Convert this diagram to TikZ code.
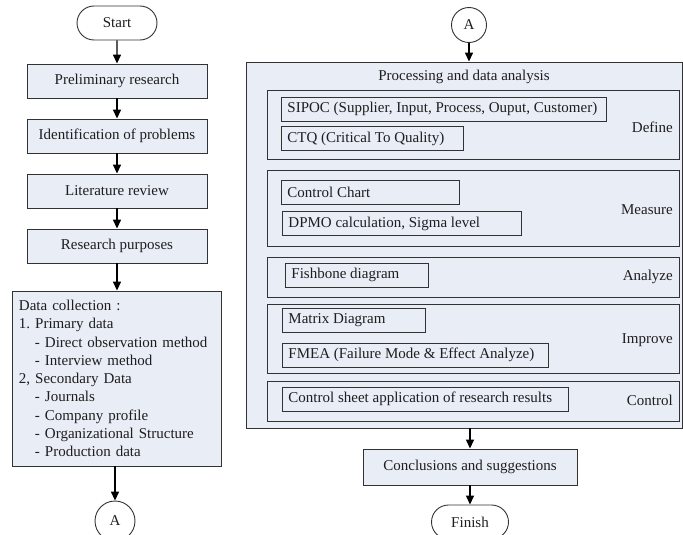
\documentclass[tikz,border=0pt]{standalone}
\usepackage{fontspec}
\setmainfont{Liberation Serif}
\usetikzlibrary{arrows.meta,shapes.misc}
\definecolor{boxfill}{RGB}{233,237,246}
\definecolor{linec}{RGB}{50,50,50}
\definecolor{txtc}{RGB}{30,30,30}
\frenchspacing
\begin{document}
\begin{tikzpicture}[x=1pt,y=-1pt,
  every node/.style={font=\fontsize{15}{18.3}\selectfont, text=txtc},
  mainbox/.style={draw=linec, fill=boxfill, line width=0.9pt, minimum width=180pt, minimum height=34pt, inner sep=0pt},
  term/.style={draw=linec, fill=white, line width=0.9pt, rounded rectangle, minimum width=80pt, minimum height=34pt, inner sep=0pt},
  conn/.style={draw=linec, fill=white, line width=0.9pt, circle, inner sep=0pt},
  phase/.style={draw=linec, line width=0.9pt, minimum width=412pt, inner sep=0pt},
  subbox/.style={draw=linec, line width=0.9pt, inner xsep=6pt, inner ysep=0pt, minimum height=24pt, anchor=west},
  plabel/.style={anchor=east, inner sep=0pt},
  arr/.style={-{Triangle[length=9pt,width=8pt]}, line width=1.4pt, draw=black}
]
\useasboundingbox (0,0) rectangle (683,535);
% left column
\node[term] (start) at (117,23) {Start};
\node[mainbox] (prelim) at (117,81) {Preliminary research};
\node[mainbox] (ident) at (117,136) {Identification of problems};
\node[mainbox] (lit) at (117,191) {Literature review};
\node[mainbox] (purp) at (117,246) {Research purposes};
\node[draw=linec, fill=boxfill, line width=0.9pt, minimum width=209pt, minimum height=175pt, inner xsep=7pt, inner ysep=0pt, text width=195pt, align=left] (data) at (116.5,378.5) {Data collection :\\
1. Primary data\\
\hspace*{16pt}- Direct observation method\\
\hspace*{16pt}- Interview method\\
2, Secondary Data\\
\hspace*{16pt}- Journals\\
\hspace*{16pt}- Company profile\\
\hspace*{16pt}- Organizational Structure\\
\hspace*{16pt}- Production data};
\node[conn, minimum size=40pt] (aL) at (115,521) {A};
\draw[arr] (start) -- (prelim);
\draw[arr] (prelim) -- (ident);
\draw[arr] (ident) -- (lit);
\draw[arr] (lit) -- (purp);
\draw[arr] (purp.south) -- (purp.south |- data.north);
\draw[arr] (aL |- data.south) -- (aL);
% right column
\node[conn, minimum size=35pt] (aR) at (469,25) {A};
\node[draw=linec, fill=boxfill, line width=0.9pt, minimum width=436pt, minimum height=366pt, inner sep=0pt] (big) at (464,245) {};
\node (title) at (464,77) {Processing and data analysis};
\draw[arr] (aR) -- (aR |- big.north);
% phases
\node[phase, minimum height=69pt] (define) at (473,124.5) {};
\node[phase, minimum height=76pt] (measure) at (473,208) {};
\node[phase, minimum height=40pt] (analyze) at (473,277) {};
\node[phase, minimum height=69pt] (improve) at (473,338.5) {};
\node[phase, minimum height=40pt] (control) at (473,401) {};
\node[plabel] (ldef) at (673,127) {Define};
\node[plabel] (lmea) at (673,210) {Measure};
\node[plabel] (lana) at (673,277) {Analyze};
\node[plabel] (limp) at (673,340) {Improve};
\node[plabel] (lcon) at (673,400) {Control};
% sub boxes
\node[subbox] (sipoc) at (281,109) {\makebox[313pt][l]{SIPOC (Supplier, Input, Process, Ouput, Customer)}};
\node[subbox] (ctq) at (281,138.5) {\makebox[170pt][l]{CTQ (Critical To Quality)}};
\node[subbox] (cchart) at (281,192.5) {\makebox[166pt][l]{Control Chart}};
\node[subbox] (dpmo) at (282,223.5) {\makebox[227pt][l]{DPMO calculation, Sigma level}};
\node[subbox] (fish) at (285,275) {\makebox[131pt][l]{Fishbone diagram}};
\node[subbox] (matrix) at (282,320) {\makebox[131pt][l]{Matrix Diagram}};
\node[subbox] (fmea) at (282,355) {\makebox[254pt][l]{FMEA (Failure Mode \& Effect Analyze)}};
\node[subbox] (csheet) at (282,399) {\makebox[274pt][l]{Control sheet application of research results}};
% bottom
\node[mainbox, minimum width=214pt, minimum height=36pt] (concl) at (470,467) {Conclusions and suggestions};
\node[term, minimum width=77pt] (finish) at (470,522) {Finish};
\draw[arr] (concl |- big.south) -- (concl);
\draw[arr] (concl) -- (finish);
\end{tikzpicture}
\end{document}
